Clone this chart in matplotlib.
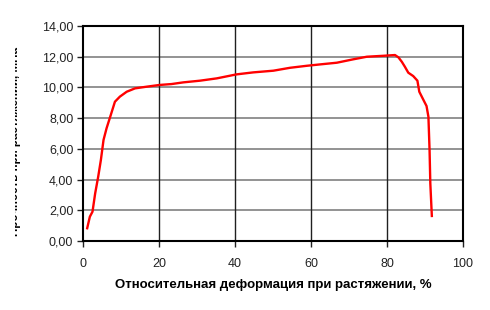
import matplotlib
matplotlib.use("Agg")
import matplotlib.pyplot as plt
from matplotlib.patches import Rectangle
from matplotlib.ticker import FuncFormatter

plt.rcParams['font.family'] = ['Liberation Sans', 'DejaVu Sans']

# деформация, %
strain = [1.1, 1.8, 2.5, 3.2, 4.0, 4.7, 5.4, 6.2, 7.3, 8.4, 9.7, 11.5, 13.7, 16.8,
          20.1, 23.3, 26.4, 30.8, 35.2, 40.4, 44.8, 50.1, 54.5, 58.9, 62.4, 66.8,
          71.1, 74.7, 79.0, 82.1, 83.0, 83.9, 84.7, 85.6, 86.9, 88.0, 88.5, 89.6,
          90.4, 90.9, 91.2, 91.4, 91.8]
# прочность, МПа
stress = [0.83, 1.58, 1.91, 3.10, 4.19, 5.27, 6.58, 7.34, 8.20, 9.07, 9.40, 9.72, 9.94, 10.05,
          10.16, 10.22, 10.33, 10.44, 10.59, 10.85, 10.98, 11.09, 11.28, 11.41, 11.50, 11.61,
          11.83, 12.00, 12.06, 12.11, 11.96, 11.67, 11.35, 10.96, 10.74, 10.44, 9.72, 9.18,
          8.79, 8.09, 5.92, 3.75, 1.63]

xticks = [0, 20, 40, 60, 80, 100]
yticks = [0, 2, 4, 6, 8, 10, 12, 14]

fig = plt.figure(figsize=(4.9, 3.1), dpi=100)
ax = fig.add_axes([0.1694, 0.2226, 0.7755, 0.6935])

ax.plot(strain, stress, color='#ff0000', lw=1.7, zorder=3)

ax.set_xlim(0, 100)
ax.set_ylim(0, 14)
ax.set_xticks(xticks)
ax.set_yticks(yticks)
ax.yaxis.set_major_formatter(FuncFormatter(lambda v, p: f"{v:.2f}".replace('.', ',')))

for y in yticks[1:-1]:
    ax.axhline(y, color='#808080', lw=1.2, zorder=1)
for x in xticks[1:-1]:
    ax.axvline(x, color='#202020', lw=1.0, zorder=1)

for s in ax.spines.values():
    s.set_linewidth(1.5)
    s.set_color('black')

ax.tick_params(axis='both', direction='out', length=4, width=1, labelsize=9, colors='#222222')
ax.tick_params(axis='x', pad=8)
ax.tick_params(axis='y', pad=3)

ax.set_xlabel('Относительная деформация при растяжении, %', fontsize=9.5,
              fontweight='bold', labelpad=7)

fig.text(21 / 490, 1 - 142 / 310, 'Прочность при растяжении, МПа', rotation=90,
         fontsize=8.4, fontweight='bold', ha='right', va='center', zorder=3)
fig.patches.append(Rectangle((0, 0), 15 / 490, 1, transform=fig.transFigure,
                             facecolor='white', edgecolor='none', zorder=10))

fig.savefig('out.png', dpi=100)
